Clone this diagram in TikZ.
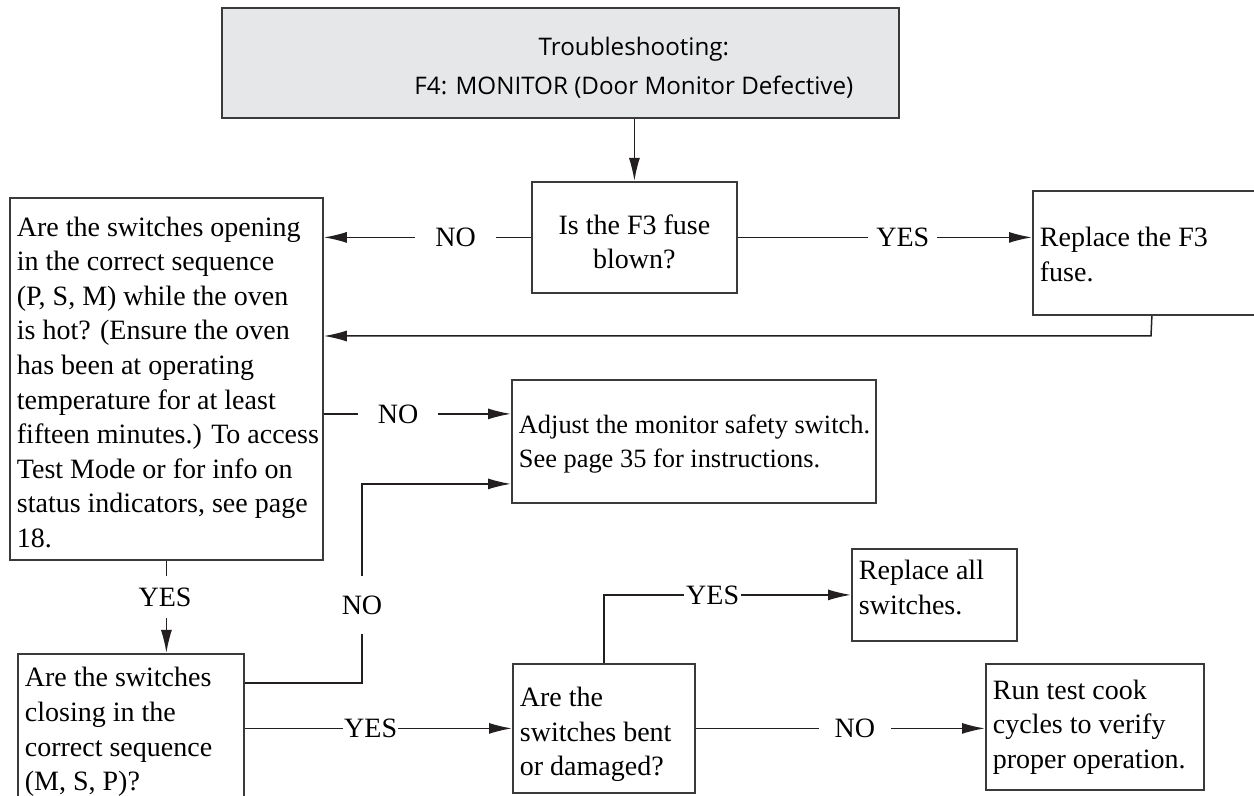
\documentclass[tikz,border=0pt]{standalone}
\usepackage{fontspec}
\setmainfont{Liberation Serif}
\newfontfamily\hdrfont{Open Sans}
\usetikzlibrary{arrows.meta}
\definecolor{boxc}{HTML}{3A3A3A}
\definecolor{linec}{HTML}{231F20}
\definecolor{hdrfill}{HTML}{E6E7E8}
% #1 = downward shift of the ink, #2 = box width, #3 = lines
\newcommand\tbl[3][0pt]{\raisebox{-#1}[\height][\depth]{\makebox[#2][l]{\hspace{3.5pt}\begin{tabular}{@{}l@{}}#3\end{tabular}}}}
\newcommand\tbc[3][0pt]{\raisebox{-#1}[\height][\depth]{\makebox[#2]{\begin{tabular}{@{}c@{}}#3\end{tabular}}}}
\tikzset{
  box/.style={draw=boxc, line width=0.9pt, inner sep=0pt, anchor=north west,
    font=\fontsize{14}{17.3}\selectfont},
  conn/.style={draw=linec, line width=0.75pt},
  arr/.style={conn, -{Latex[length=11.5pt,width=5.5pt]}},
  lbl/.style={fill=white, inner ysep=1pt, font=\fontsize{14}{17.3}\selectfont},
}
\begin{document}
\begin{tikzpicture}[x=0.5pt,y=-0.5pt]
\useasboundingbox (0,0) rectangle (1254,796);
\clip (0,0) rectangle (1254,796);
% boxes
\node[box, fill=hdrfill, minimum width=338.5pt, minimum height=55pt,
  font=\hdrfont\fontsize{12.1}{19.75}\selectfont] (top) at (221,7)
  {\raisebox{-2pt}[\height][\depth]{\makebox[338.5pt]{\hspace{73.5pt}\begin{tabular}{@{}c@{}}Troubleshooting:\\F4: MONITOR (Door Monitor Defective)\end{tabular}}}};
\node[box, minimum width=102.5pt, minimum height=55.5pt] (isf3) at (531,181)
  {\tbc[3.5pt]{102.5pt}{Is the F3 fuse\\blown?}};
\node[box, minimum width=156.5pt, minimum height=181pt] (left) at (9,197)
  {\tbl[3pt]{156.5pt}{Are the switches opening\\in the correct sequence\\(P, S, M) while the oven\\is hot? (Ensure the oven\\has been at operating\\temperature for at least\\fifteen minutes.) To access\\Test Mode or for info on\\status indicators, see page\\18.}};
\node[box, minimum width=119pt, minimum height=62pt] (repf3) at (1032,190)
  {\tbl[2pt]{119pt}{Replace the F3\\fuse.}};
\node[box, minimum width=182pt, minimum height=61.5pt, font=\fontsize{13.2}{17.3}\selectfont] (adj) at (511,379)
  {\tbl[1pt]{182pt}{Adjust the monitor safety switch.\\See page 35 for instructions.}};
\node[box, minimum width=113pt, minimum height=78pt] (bl) at (17,653)
  {\tbl{113pt}{Are the switches\\closing in the\\correct sequence\\(M, S, P)?}};
\node[box, minimum width=91pt, minimum height=64.5pt] (bent) at (512,663)
  {\tbl[3pt]{91pt}{Are the\\switches bent\\or damaged?}};
\node[box, minimum width=82.5pt, minimum height=46pt] (repall) at (851,548)
  {\tbl[-2.5pt]{82.5pt}{Replace all\\switches.}};
\node[box, minimum width=109pt, minimum height=63pt] (run) at (985,663)
  {\tbl{109pt}{Run test cook\\cycles to verify\\proper operation.}};
% helper coordinates
\coordinate (j1) at (1151,336);
\coordinate (a1) at ([yshift=13.75pt]adj.west);
\coordinate (a2) at ([yshift=-21.25pt]adj.west);
\coordinate (b1) at ([yshift=24.5pt]bl.east);
\coordinate (k) at (362,0);
% connectors
\draw[arr] (top.south -| isf3.north) -- (isf3.north);
\draw[arr] (isf3.west) -- node[lbl, pos=0.364, inner xsep=10pt] (n1) {NO} (left.east |- isf3.west);
\draw[arr] (isf3.east) -- node[lbl, pos=0.561, inner xsep=4pt] (y1) {YES} (isf3.east -| repf3.west);
\draw[arr] (repf3.south) -- (j1) -- (left.east |- j1);
\draw[arr] (left.east |- a1) -- node[lbl, pos=0.397, inner xsep=10pt] (n2) {NO} (a1);
\draw[arr] (b1) -| (k |- a2) -- (a2);
\node[lbl, inner xsep=1pt, inner ysep=10pt] (n3) at (362,605) {NO};
\draw[arr] (left.south) -- (left.south |- bl.north);
\node[lbl, inner xsep=1pt, inner ysep=6pt] (y2) at (165,597) {YES};
\draw[arr] (bl.east |- bent.west) -- node[lbl, pos=0.471, inner xsep=0.5pt] (y3) {YES} (bent.west);
\draw[arr] (bent.north) |- node[lbl, pos=0.72, inner xsep=1pt] (y4) {YES} (repall.west);
\draw[arr] (bent.east) -- node[lbl, pos=0.55, inner xsep=8pt] (n4) {NO} (bent.east -| run.west);
\end{tikzpicture}
\end{document}
